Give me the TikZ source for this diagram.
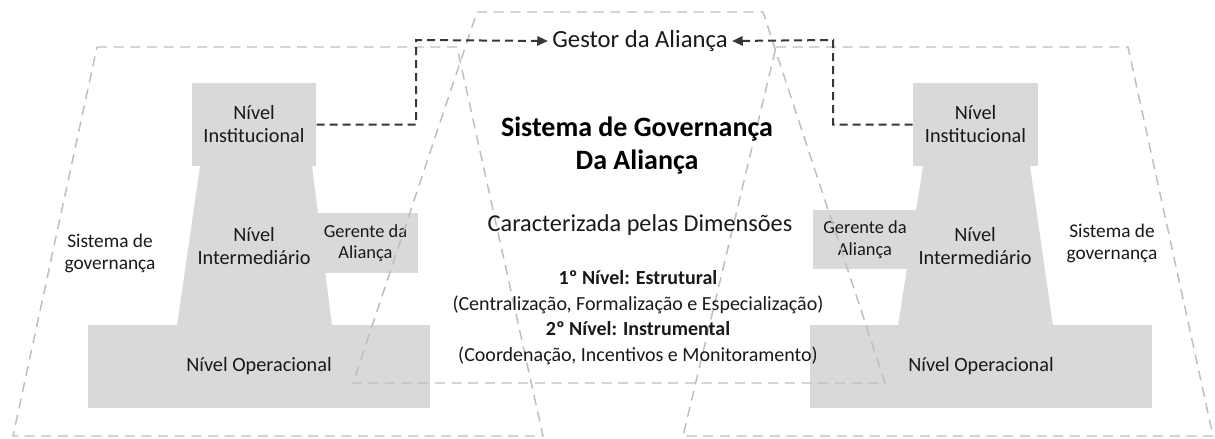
\documentclass[tikz,border=0pt]{standalone}
\usepackage{fontspec}
\setmainfont{Carlito}
\usetikzlibrary{arrows.meta}
\definecolor{boxgray}{RGB}{217,217,217}
\definecolor{framegray}{RGB}{190,190,190}
\definecolor{linkgray}{RGB}{55,55,55}
\definecolor{txtgray}{RGB}{25,25,25}
\tikzset{every picture/.style={line width=0.75pt}}
\tikzset{
  frameline/.style={draw=framegray, line width=1.1pt, dash pattern={on 7.5pt off 5pt}},
  gestorlink/.style={draw=linkgray, line width=1.5pt, dash pattern={on 6pt off 3.75pt}, -{Triangle[length=8pt,width=7pt]}},
  levelbox/.style={fill=boxgray, text=txtgray, align=center, inner sep=0pt, font=\fontsize{15.2}{17.25}\selectfont},
  leveltext/.style={text=txtgray, align=center, inner sep=0pt, font=\fontsize{15.2}{17.25}\selectfont},
  sidetext/.style={text=txtgray, align=center, inner sep=0pt, font=\fontsize{14.5}{16.5}\selectfont},
}

\begin{document}
\begin{tikzpicture}[x=0.75pt,y=0.75pt,yscale=-1,xscale=1]
\path[fill=white] (0,0) rectangle (1215,439);
\useasboundingbox (0,0) rectangle (1215,439);

%Shape: Trapezoid [id:left middle]
\fill[boxgray] (200,166) -- (312,166) -- (332,326) -- (177,326) -- cycle ;
%Shape: Trapezoid [id:right middle]
\fill[boxgray] (923,166) -- (1030,166) -- (1053,326) -- (898,326) -- cycle ;

%Shape: Rectangle [id:left boxes]
\node[levelbox, minimum width=93pt, minimum height=62.25pt] (instL) at (254,124.5) {Nível\\Institucional};
\node[levelbox, minimum width=78.75pt, minimum height=45pt, font=\fontsize{13.8}{16}\selectfont] (gerL) at (365.5,243) {Gerente da\\Aliança};
\node[levelbox, minimum width=256.5pt, minimum height=62.25pt] (operL) at (259,366.5) {Nível Operacional};
\node[leveltext] (interL) at (254,246) {Nível\\Intermediário};

%Shape: Rectangle [id:right boxes]
\node[levelbox, minimum width=93.75pt, minimum height=62.25pt] (instR) at (975.5,124.5) {Nível\\Institucional};
\node[levelbox, minimum width=78pt, minimum height=44.25pt, font=\fontsize{13.8}{16}\selectfont] (gerR) at (865,239.5) {Gerente da\\Aliança};
\node[levelbox, minimum width=256.5pt, minimum height=62.25pt] (operR) at (981,366.5) {Nível Operacional};
\node[leveltext] (interR) at (975,246) {Nível\\Intermediário};

%Shape: Dashed frames
\draw[frameline] (97,47) -- (457,47) -- (543,436) -- (13,436) -- cycle ;
\draw[frameline] (477,12) -- (763,12) -- (885,383) -- (353,383) -- cycle ;
\draw[frameline] (776,47) -- (1128,47) -- (1213,436) -- (683,436) -- cycle ;

% Text Node
\node[sidetext] (sisL) at (110,253.5) {Sistema de\\governança};
\node[sidetext] (sisR) at (1112,243) {Sistema de\\governança};
\node[text=txtgray, inner sep=3pt, font=\fontsize{18.5}{22}\selectfont] (gestor) at (640,41) {Gestor da Aliança};
\node[text=black, align=center, inner sep=0pt, font=\fontsize{21}{24.75}\bfseries\selectfont] (titulo) at (637,146) {Sistema de Governança\\Da Aliança};
\node[text=txtgray, inner sep=0pt, font=\fontsize{18.2}{20}\selectfont] (carac) at (640,225) {Caracterizada pelas Dimensões};
\node[text=txtgray, align=center, inner sep=0pt, font=\fontsize{15}{19.25}\selectfont] (dimens) at (638,317.5)
  {\textbf{1º Nível: Estrutural}\\(Centralização, Formalização e Especialização)\\\textbf{2º Nível: Instrumental}\\(Coordenação, Incentivos e Monitoramento)};

%Straight Lines [id:links to gestor]
\coordinate (cantoL) at (416,40);
\coordinate (cantoR) at (833,40);
\draw[gestorlink] (instL.east) -| (cantoL) -- (gestor.west);
\draw[gestorlink] (instR.west) -| (cantoR) -- (gestor.east);

\end{tikzpicture}
\end{document}
